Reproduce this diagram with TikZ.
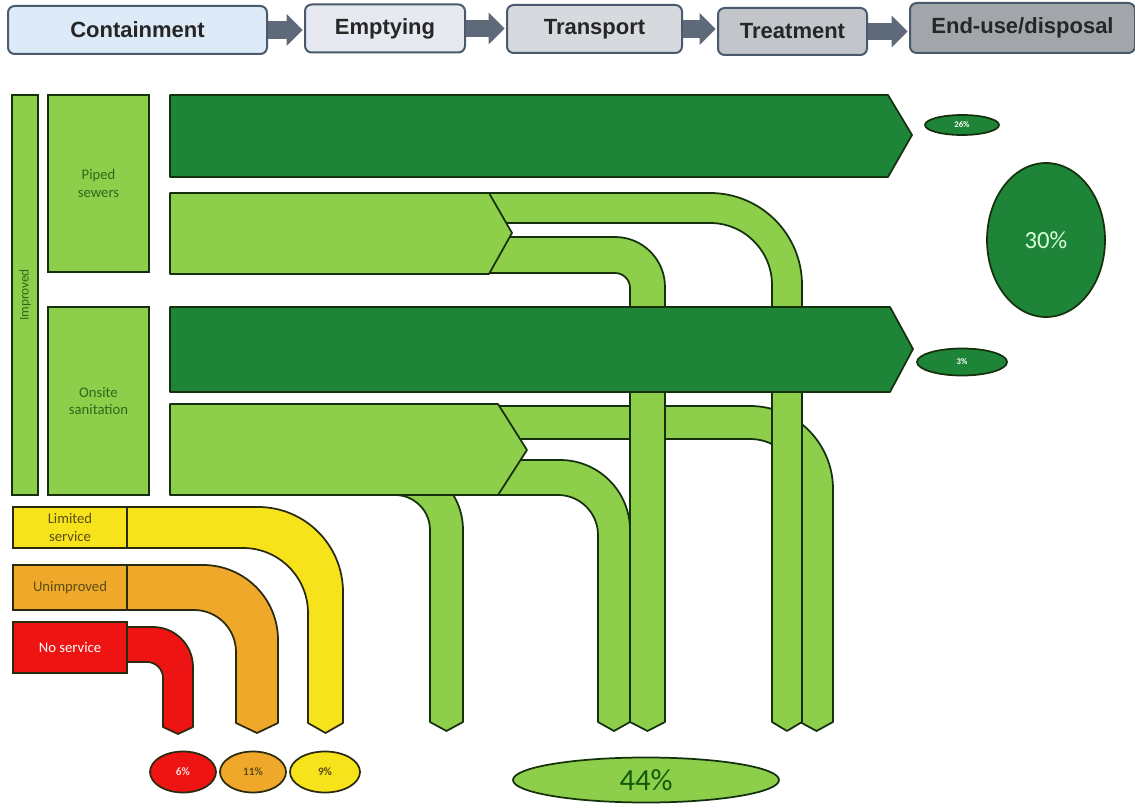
\documentclass[tikz,border=0pt]{standalone}
\usepackage{fontspec}
\setmainfont{Carlito}
\newfontfamily\arial{Liberation Sans}
\usetikzlibrary{arrows.meta,shapes.geometric}
\definecolor{dkg}{HTML}{1E8538}
\definecolor{ltg}{HTML}{8DCE4A}
\definecolor{edg}{HTML}{15300C}
\definecolor{lbltxt}{HTML}{2C6A1C}
\definecolor{hdedge}{HTML}{4A5A6C}
\definecolor{hdarr}{HTML}{5E6A7A}
\definecolor{hc1}{HTML}{DCEBF7}
\definecolor{hc2}{HTML}{E6EAF0}
\definecolor{hc3}{HTML}{D6D9DE}
\definecolor{hc4}{HTML}{C2C5CA}
\definecolor{hc5}{HTML}{A2A6AB}
\definecolor{ylw}{HTML}{F7E31C}
\definecolor{org}{HTML}{EFA82A}
\definecolor{redc}{HTML}{EE1414}
\definecolor{wedg}{HTML}{2A2A0E}
\definecolor{wtxt}{HTML}{5A4C12}
\begin{document}
\begin{tikzpicture}[x=0.75pt,y=-0.75pt,
  hbox/.style={draw=hdedge,line width=1.5pt,rounded corners=5pt,inner sep=0pt,
    font=\arial\bfseries\fontsize{16.5}{19}\selectfont,text=black!85},
  harrow/.style={draw=hdarr,line width=13pt,-{Triangle[width=23pt,length=12pt]},shorten >=1pt},
  dkflow/.style={fill=dkg,draw=edg,line width=1.3pt,line join=round},
  ltflow/.style={fill=ltg,draw=edg,line width=1.3pt,line join=round},
  gbox/.style={fill=ltg,draw=edg,line width=1.3pt,inner sep=0pt,align=center,
    font=\fontsize{11}{13}\selectfont,text=lbltxt},
  wbox/.style={draw=wedg,line width=1.3pt,inner sep=0pt,align=center,
    font=\fontsize{11}{13}\selectfont,text=wtxt},
  wflow/.style={draw=wedg,line width=1.3pt,line join=round},
  pct/.style={ellipse,draw=edg,line width=1.3pt,inner sep=0pt},
]
\useasboundingbox (0,0) rectangle (1135,805);
\fill[white] (0,0) rectangle (1135,805);

% header
\node[hbox,fill=hc1,minimum width=194.25pt,minimum height=36pt] (cont) at (137.5,30) {Containment};
\node[hbox,fill=hc2,minimum width=120pt,minimum height=36pt] (empt) at (385,28.5) {Emptying};
\node[hbox,fill=hc3,minimum width=131.25pt,minimum height=36pt] (trans) at (594.5,29) {Transport};
\node[hbox,fill=hc4,minimum width=111.75pt,minimum height=35.25pt] (treat) at (792.5,31.5) {Treatment};
\node[hbox,fill=hc5,minimum width=168.75pt,minimum height=37.5pt] (end) at (1022.5,28) {End-use/disposal};
\draw[harrow] (cont.east) -- (cont.east -| empt.west);
\draw[harrow] (empt.east) -- (empt.east -| trans.west);
\draw[harrow] (trans.east) -- (trans.east -| treat.west);
\draw[harrow] (treat.east) -- (treat.east -| end.west);

% onsite light pipes
\draw[ltflow] (490,406) -- (750,406) arc(-90:0:83) -- (833,722) -- (816.5,731) -- (800,722) -- (800,489) arc(0:-90:50) -- (490,439) -- cycle;
\draw[ltflow] (490,460) -- (560,460) arc(-90:0:70) -- (630,722) -- (614,731) -- (598,722) -- (598,535) arc(0:-90:40) -- (490,495) -- cycle;
\draw[ltflow] (395,462) arc(-90:0:68) -- (463,722) -- (446.5,731) -- (430,722) -- (430,530) arc(0:-90:35) -- cycle;

% piped light pipes
\draw[ltflow] (480,193) -- (710,193) arc(-90:0:92) -- (802,722) -- (787,731) -- (772,722) -- (772,285) arc(0:-90:62) -- (480,223) -- cycle;
\draw[ltflow] (480,237) -- (615,237) arc(-90:0:50) -- (665,722) -- (647.5,731) -- (630,722) -- (630,288) arc(0:-90:15) -- (480,273) -- cycle;

% main arrows
\draw[dkflow] (170,95) -- (888,95) -- (912,135) -- (888,177) -- (170,177) -- cycle;
\draw[ltflow] (170,193) -- (489,193) -- (512,233) -- (489,274) -- (170,274) -- cycle;
\draw[dkflow] (170,307) -- (890,307) -- (913,349) -- (890,392) -- (170,392) -- cycle;
\draw[ltflow] (170,404) -- (498,404) -- (527,450) -- (498,495) -- (170,495) -- cycle;

% left boxes
\node[gbox,minimum width=19.5pt,minimum height=300pt] (imp) at (25,295) {};
\node[font=\fontsize{10}{12}\selectfont,text=lbltxt,rotate=90] (impl) at (imp.center) {Improved};
\node[gbox,minimum width=75.75pt,minimum height=132.75pt] (piped) at (98.5,183.5) {Piped\\sewers};
\node[gbox,minimum width=75.75pt,minimum height=141pt] (onsite) at (98.5,401) {Onsite\\sanitation};

% coloured flows
\draw[wflow,fill=ylw] (120,507) -- (258,507) arc(-90:0:85) -- (343,723) -- (325.5,733) -- (308,723) -- (308,613) arc(0:-90:65) -- (120,548) -- cycle;
\draw[wflow,fill=org] (120,565) -- (203,565) arc(-90:0:75) -- (278,723) -- (257,733) -- (236,723) -- (236,652) arc(0:-90:42) -- (120,610) -- cycle;
\draw[wflow,fill=redc] (120,627) -- (153,627) arc(-90:0:40) -- (193,727) -- (178,734) -- (163,727) -- (163,678) arc(0:-90:16) -- (120,662) -- cycle;
\node[wbox,fill=ylw,minimum width=85.5pt,minimum height=30.75pt] (lim) at (70,527.5) {Limited\\service};
\node[wbox,fill=org,minimum width=85.5pt,minimum height=33.75pt] (unimp) at (70,587.5) {Unimproved};
\node[wbox,fill=redc,text=white,minimum width=85.5pt,minimum height=38.25pt] (nos) at (70,647.5) {No service};

% percentages
\node[pct,fill=dkg,minimum width=55.5pt,minimum height=15pt,text=white,font=\bfseries\fontsize{6.5}{7}\selectfont] (p26) at (962,125) {26\%};
\node[pct,fill=dkg,minimum width=88.5pt,minimum height=115.5pt,text=green!15!white,font=\fontsize{18.5}{21}\selectfont] (p30) at (1046,240) {30\%};
\node[pct,fill=dkg,minimum width=67.5pt,minimum height=20.25pt,text=white,font=\bfseries\fontsize{6.5}{7}\selectfont] (p3) at (962,362) {3\%};
\node[pct,draw=wedg,fill=redc,minimum width=49.5pt,minimum height=30.75pt,text=red!15!white,font=\bfseries\fontsize{8.5}{10}\selectfont] (p6) at (183,772) {6\%};
\node[pct,draw=wedg,fill=org,minimum width=49.5pt,minimum height=30.75pt,text=wtxt,font=\bfseries\fontsize{8.5}{10}\selectfont] (p11) at (253,772) {11\%};
\node[pct,draw=wedg,fill=ylw,minimum width=52.5pt,minimum height=30.75pt,text=wtxt,font=\bfseries\fontsize{8.5}{10}\selectfont] (p9) at (325,772) {9\%};
\node[pct,fill=ltg,minimum width=199.5pt,minimum height=33.75pt,text=edg!80!green,font=\fontsize{23}{26}\selectfont] (p44) at (646,780) {44\%};
\end{tikzpicture}
\end{document}
